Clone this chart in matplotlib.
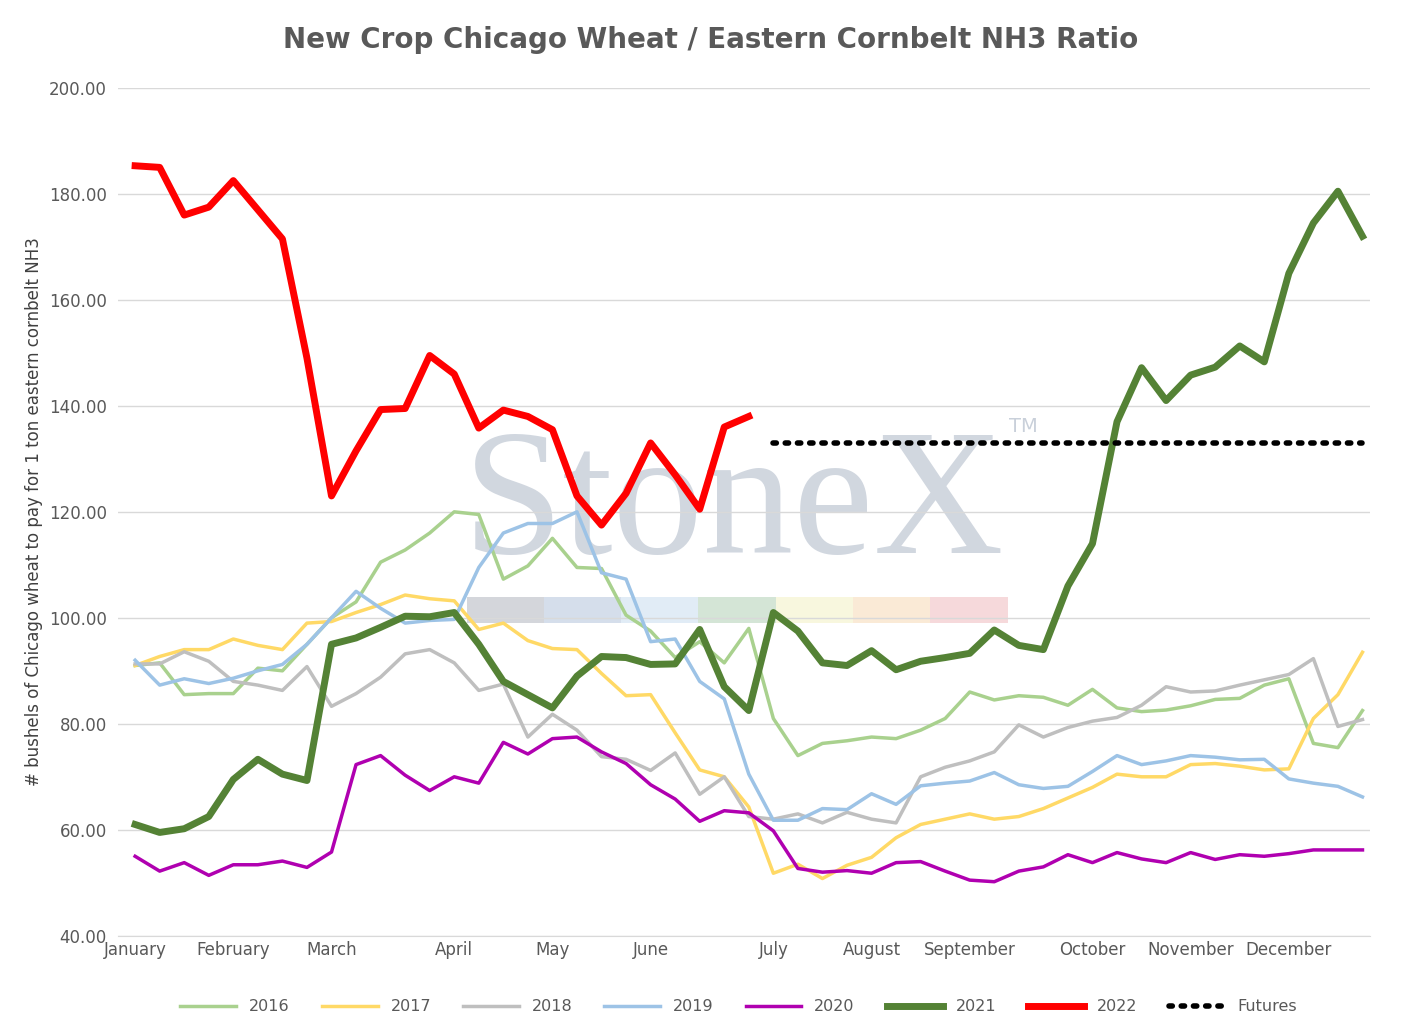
import numpy as np
import matplotlib
matplotlib.use('Agg')
from matplotlib import pyplot as plt

weeks = np.arange(51)
months = ['January', 'February', 'March', 'April', 'May', 'June', 'July',
          'August', 'September', 'October', 'November', 'December']
month_weeks = [0, 4, 8, 13, 17, 21, 26, 30, 34, 39, 43, 47]

y2016 = [91, 91.5, 85.5, 85.7, 85.7, 90.5, 90, 95, 100, 103, 110.5, 112.8, 116, 120, 119.5, 107.3, 109.8,
         115, 109.5, 109.3, 100.5, 97.5, 92.5, 95.5, 91.5, 98, 81, 74, 76.3, 76.8, 77.5, 77.2, 78.8, 81, 86,
         84.5, 85.3, 85, 83.5, 86.5, 83, 82.3, 82.6, 83.4, 84.6, 84.8, 87.3, 88.5, 76.3, 75.5, 82.5]
y2017 = [91, 92.7, 94, 94, 96, 94.8, 94, 99, 99.3, 101, 102.5, 104.3, 103.6, 103.2, 97.8, 99, 95.7, 94.2,
         94, 89.5, 85.3, 85.5, 78.3, 71.3, 70, 64.3, 51.8, 53.5, 50.8, 53.3, 54.8, 58.5, 61, 62, 63, 62,
         62.5, 64, 66, 68, 70.5, 70, 70, 72.3, 72.5, 72, 71.3, 71.5, 81, 85.5, 93.5]
y2018 = [91.3, 91.3, 93.6, 91.8, 88, 87.3, 86.3, 90.8, 83.3, 85.7, 88.8, 93.2, 94, 91.5, 86.3, 87.5, 77.5,
         81.8, 78.8, 73.8, 73.3, 71.2, 74.5, 66.7, 70, 62.5, 62, 63, 61.3, 63.3, 62, 61.3, 70, 71.8, 73,
         74.7, 79.8, 77.5, 79.3, 80.5, 81.2, 83.5, 87, 86, 86.2, 87.3, 88.3, 89.3, 92.3, 79.5, 80.8]
y2019 = [92, 87.3, 88.5, 87.6, 88.6, 90, 91.2, 95, 100, 105, 101.8, 99, 99.5, 99.7, 109.5, 116, 117.8, 117.8,
         120, 108.5, 107.3, 95.5, 96, 88, 84.7, 70.5, 61.8, 61.8, 64, 63.8, 66.8, 64.8, 68.3, 68.8, 69.2,
         70.8, 68.5, 67.8, 68.2, 71, 74, 72.3, 73, 74, 73.7, 73.2, 73.3, 69.6, 68.8, 68.2, 66.2]
y2020 = [55, 52.2, 53.8, 51.4, 53.4, 53.4, 54.1, 52.9, 55.8, 72.3, 74, 70.3, 67.4, 70, 68.8, 76.5, 74.3,
         77.2, 77.5, 74.7, 72.5, 68.5, 65.8, 61.6, 63.6, 63.2, 59.8, 52.7, 52, 52.3, 51.8, 53.8, 54, 52.2,
         50.5, 50.2, 52.2, 53, 55.3, 53.8, 55.7, 54.5, 53.8, 55.7, 54.4, 55.3, 55, 55.5, 56.2, 56.2, 56.2]
y2021 = [61, 59.5, 60.2, 62.5, 69.5, 73.3, 70.5, 69.3, 95, 96.2, 98.2, 100.3, 100.2, 101, 95, 88, 85.5, 83,
         89, 92.7, 92.5, 91.2, 91.3, 97.8, 87, 82.5, 101, 97.5, 91.5, 91, 93.8, 90.2, 91.8, 92.5, 93.3, 97.7,
         94.8, 94, 106, 114, 137, 147.2, 141, 145.8, 147.3, 151.3, 148.3, 165, 174.5, 180.5, 172]
y2022 = [185.3, 185, 176, 177.5, 182.5, 177, 171.5, 149, 123, 131.5, 139.3, 139.5, 149.5, 146, 135.8,
         139.2, 138, 135.5, 123, 117.5, 123.5, 133, 127, 120.5, 136, 138]
futures_weeks = np.arange(26, 51)
futures = [133] * len(futures_weeks)

fig = plt.figure(figsize=(14.21, 10.34), dpi=100)
ax = fig.add_axes([0.083, 0.095, 0.881, 0.82])

# watermark
ax.text(24.4, 120.5, 'StoneX', fontsize=130, family='Liberation Serif', color='#c9d0da',
        alpha=0.85, ha='center', va='center', zorder=0)
ax.text(35.6, 135, 'TM', fontsize=14, color='#c9d0da', zorder=0)
band = ['#b8bcc4', '#b9c8de', '#cde0f0', '#b8d4bc', '#f4f2c8', '#f8dcbc', '#f0c0c4']
for i, c in enumerate(band):
    ax.axvspan(13.5 + i * 3.15, 13.5 + (i + 1) * 3.15, ymin=(99 - 40) / 160, ymax=(104 - 40) / 160,
               color=c, alpha=0.6, lw=0, zorder=0)

ax.plot(weeks, y2016, color='#a9d18e', lw=2.5, label='2016')
ax.plot(weeks, y2017, color='#ffd966', lw=2.5, label='2017')
ax.plot(weeks, y2018, color='#bfbfbf', lw=2.5, label='2018')
ax.plot(weeks, y2019, color='#9dc3e6', lw=2.5, label='2019')
ax.plot(weeks, y2020, color='#b000b0', lw=2.5, label='2020')
ax.plot(weeks, y2021, color='#548235', lw=5, label='2021')
ax.plot(np.arange(len(y2022)), y2022, color='#ff0000', lw=5, label='2022')
ax.plot(futures_weeks, futures, color='black', lw=4, ls=(0, (0.6, 1.6)),
        dash_capstyle='round', label='Futures')

ax.set_xlim(-0.7, 50.3)
ax.set_ylim(40, 200)
ax.set_yticks(np.arange(40, 201, 20))
ax.set_yticklabels([f'{v:.2f}' for v in np.arange(40, 201, 20)])
ax.set_xticks(month_weeks)
ax.set_xticklabels(months)
ax.tick_params(colors='#595959', labelsize=12, length=0)
ax.tick_params(axis='y', pad=8)
ax.grid(axis='y', color='#d9d9d9', lw=1)
ax.set_axisbelow(True)
for s in ['top', 'right', 'left']:
    ax.spines[s].set_visible(False)
ax.spines['bottom'].set_color('#d9d9d9')
ax.set_ylabel('# bushels of Chicago wheat to pay for 1 ton eastern cornbelt NH3',
              fontsize=12, color='#404040')
fig.suptitle('New Crop Chicago Wheat / Eastern Cornbelt NH3 Ratio', fontsize=20,
             fontweight='bold', color='#595959', y=0.975)
fig.legend(loc='lower center', ncol=8, frameon=False, fontsize=11.5, labelcolor='#595959',
           bbox_to_anchor=(0.52, 0.005), handlelength=3.5)
fig.savefig('out.png')
